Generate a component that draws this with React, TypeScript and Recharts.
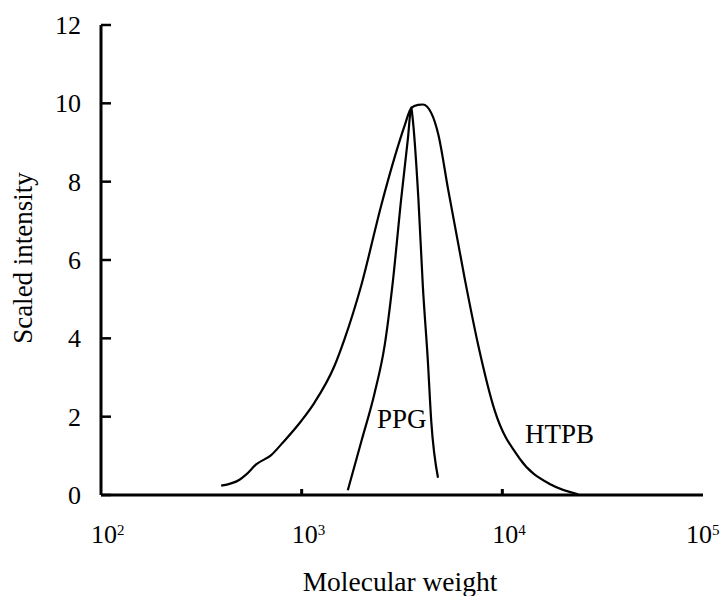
import React from "react";
import { LineChart, Line, XAxis, YAxis, Customized } from "recharts";

// HTPB curve (molecular weight, scaled intensity)
const htpbMW = [397, 490, 528, 593, 705, 806, 995, 1159, 1458, 1635, 1981, 2493, 2905, 3259, 3516, 3800, 4018, 4427, 4800, 5357, 6486, 7565, 9156, 12200, 17540, 23870];
const htpbIntensity = [0.24, 0.39, 0.52, 0.78, 1.02, 1.34, 1.89, 2.36, 3.3, 3.98, 5.35, 7.4, 8.62, 9.43, 9.88, 9.96, 9.97, 9.75, 9.2, 7.83, 5.54, 3.85, 2.16, 0.93, 0.26, 0.02];

// PPG curve
const ppgMW = [1698, 1981, 2308, 2588, 2847, 3133, 3384, 3518, 3560, 3816, 4018, 4256, 4424, 4779];
const ppgIntensity = [0.12, 1.36, 2.6, 3.8, 5.45, 7.56, 9.1, 9.9, 9.7, 7.57, 5.32, 3.41, 1.88, 0.44];

const xTicks = [100, 1000, 10000, 100000];
const yTicks = [0, 2, 4, 6, 8, 10, 12];

const htpbData = htpbMW.map((x, i) => ({ x, y: htpbIntensity[i] }));
const ppgData = ppgMW.map((x, i) => ({ x, y: ppgIntensity[i] }));

const FONT = "'Liberation Serif', 'DejaVu Serif', serif";

const XTick = (props: any) => {
  const { x, y, payload } = props;
  const exp = Math.round(Math.log10(payload.value));
  const isEnd = payload.value === 100 || payload.value === 100000;
  const shift = payload.value === 100000 ? 17 : 10;
  return (
    <g>
      {!isEnd && <line x1={x} x2={x} y1={y} y2={y - 6} stroke="#000" strokeWidth={3} />}
      <text x={x - shift} y={y + 48} fontSize={26} fontFamily={FONT} fill="#000">
        10
        <tspan dy={-8} fontSize={15}>{exp}</tspan>
      </text>
    </g>
  );
};

const YTick = (props: any) => {
  const { x, y, payload } = props;
  return (
    <g>
      <line x1={x} x2={x + 10} y1={y} y2={y} stroke="#000" strokeWidth={2.5} />
      <text x={x - 20} y={y} dy="0.34em" textAnchor="end" fontSize={26} fontFamily={FONT} fill="#000">
        {payload.value}
      </text>
    </g>
  );
};

const Annotations = () => (
  <g fontFamily={FONT} fill="#000">
    <text x={32} y={258} transform="rotate(-90, 32, 258)" textAnchor="middle" fontSize={27}>
      Scaled intensity
    </text>
    <text x={400} y={591} textAnchor="middle" fontSize={27.5}>
      Molecular weight
    </text>
    <text x={377} y={428} fontSize={27}>PPG</text>
    <text x={525} y={443} fontSize={27}>HTPB</text>
  </g>
);

export default function App() {
  return (
    <div style={{ position: "absolute", left: 0, top: 0, background: "#fff" }}>
      <LineChart width={722} height={596} margin={{ top: 25, right: 19, bottom: 0, left: 0 }}>
        <XAxis
          dataKey="x"
          type="number"
          scale="log"
          domain={[100, 100000]}
          ticks={xTicks}
          allowDataOverflow
          height={101}
          tickSize={0}
          tickMargin={0}
          tickLine={false}
          tick={<XTick />}
          axisLine={{ stroke: "#000", strokeWidth: 3 }}
          interval={0}
        />
        <XAxis
          xAxisId="top"
          orientation="top"
          type="number"
          domain={[0, 1]}
          height={0}
          tick={false}
          tickLine={false}
          axisLine={{ stroke: "#000", strokeWidth: 2 }}
        />
        <YAxis
          type="number"
          domain={[0, 12]}
          ticks={yTicks}
          width={101}
          tickSize={0}
          tickMargin={0}
          tickLine={false}
          tick={<YTick />}
          axisLine={{ stroke: "#000", strokeWidth: 3 }}
          interval={0}
        />
        <YAxis
          yAxisId="right"
          orientation="right"
          type="number"
          domain={[0, 1]}
          width={0}
          tick={false}
          tickLine={false}
          axisLine={{ stroke: "#000", strokeWidth: 2 }}
        />
        <Line
          data={htpbData}
          dataKey="y"
          type="monotone"
          stroke="#000"
          strokeWidth={2.2}
          dot={false}
          isAnimationActive={false}
        />
        <Line
          data={ppgData}
          dataKey="y"
          type="monotone"
          stroke="#000"
          strokeWidth={2.2}
          dot={false}
          isAnimationActive={false}
        />
        <Customized component={<Annotations />} />
      </LineChart>
    </div>
  );
}
